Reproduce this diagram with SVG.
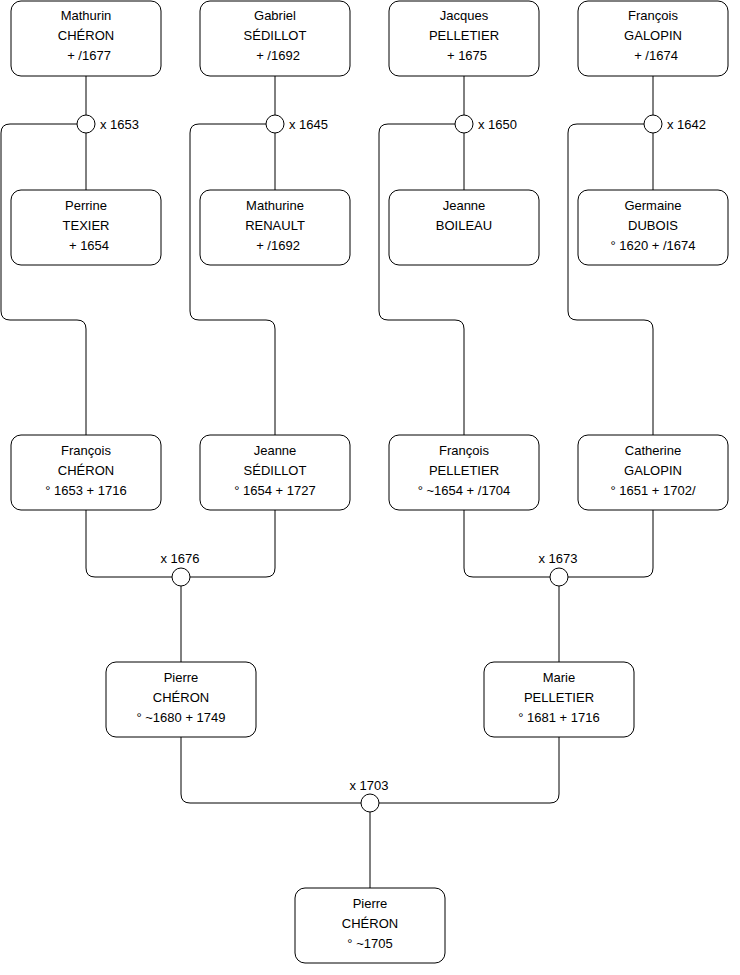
<svg xmlns="http://www.w3.org/2000/svg" width="740" height="975" viewBox="0 0 740 975">
<style>
.box{fill:#fff;stroke:#000;stroke-width:1}
.t{font-family:"Liberation Sans",Arial,Helvetica,sans-serif;font-size:13px;fill:#000;text-anchor:middle}
.l{font-family:"Liberation Sans",Arial,Helvetica,sans-serif;font-size:13px;fill:#000}
.c{fill:none;stroke:#000;stroke-width:1}
.m{fill:#fff;stroke:#000;stroke-width:1}
</style>
<rect width="740" height="975" fill="#fff"/>
<g id="connectors">
<path class="c" d="M86,76V115M86,133V190M77,124H10Q1,124 1,133V311Q1,320 10,320H77Q86,320 86,329V435"/>
<path class="c" d="M275,76V115M275,133V190M266,124H199Q190,124 190,133V311Q190,320 199,320H266Q275,320 275,329V435"/>
<path class="c" d="M464,76V115M464,133V190M455,124H388Q379,124 379,133V311Q379,320 388,320H455Q464,320 464,329V435"/>
<path class="c" d="M653,76V115M653,133V190M644,124H577Q568,124 568,133V311Q568,320 577,320H644Q653,320 653,329V435"/>
<path class="c" d="M86,510V568Q86,577 95,577H172M275,510V568Q275,577 266,577H190M181,586V662"/>
<path class="c" d="M464,510V568Q464,577 473,577H550M653,510V568Q653,577 644,577H568M559,586V662"/>
<path class="c" d="M181,737V794Q181,803 190,803H361M559,737V794Q559,803 550,803H379M370,812V888"/>
</g>
<g id="m1653"><circle class="m" cx="86" cy="124" r="9"/><text class="l" x="100" y="129">x 1653</text></g>
<g id="m1645"><circle class="m" cx="275" cy="124" r="9"/><text class="l" x="289" y="129">x 1645</text></g>
<g id="m1650"><circle class="m" cx="464" cy="124" r="9"/><text class="l" x="478" y="129">x 1650</text></g>
<g id="m1642"><circle class="m" cx="653" cy="124" r="9"/><text class="l" x="667" y="129">x 1642</text></g>
<g id="m1676"><circle class="m" cx="181" cy="577" r="9"/><text class="t" x="180" y="563">x 1676</text></g>
<g id="m1673"><circle class="m" cx="559" cy="577" r="9"/><text class="t" x="558" y="563">x 1673</text></g>
<g id="m1703"><circle class="m" cx="370" cy="803" r="9"/><text class="t" x="369" y="790">x 1703</text></g>

<g id="mathurin_cheron"><rect class="box" x="11" y="1" width="150" height="75" rx="10"/>
<text class="t" x="86" y="20">Mathurin</text><text class="t" x="86" y="40">CHÉRON</text><text class="t" x="89" y="60">+ /1677</text></g>
<g id="gabriel_sedillot"><rect class="box" x="200" y="1" width="150" height="75" rx="10"/>
<text class="t" x="275" y="20">Gabriel</text><text class="t" x="275" y="40">SÉDILLOT</text><text class="t" x="278" y="60">+ /1692</text></g>
<g id="jacques_pelletier"><rect class="box" x="389" y="1" width="150" height="75" rx="10"/>
<text class="t" x="464" y="20">Jacques</text><text class="t" x="464" y="40">PELLETIER</text><text class="t" x="467" y="60">+ 1675</text></g>
<g id="francois_galopin"><rect class="box" x="578" y="1" width="150" height="75" rx="10"/>
<text class="t" x="653" y="20">François</text><text class="t" x="653" y="40">GALOPIN</text><text class="t" x="656" y="60">+ /1674</text></g>

<g id="perrine_texier"><rect class="box" x="11" y="190" width="150" height="75" rx="10"/>
<text class="t" x="86" y="210">Perrine</text><text class="t" x="86" y="230">TEXIER</text><text class="t" x="89" y="250">+ 1654</text></g>
<g id="mathurine_renault"><rect class="box" x="200" y="190" width="150" height="75" rx="10"/>
<text class="t" x="275" y="210">Mathurine</text><text class="t" x="275" y="230">RENAULT</text><text class="t" x="278" y="250">+ /1692</text></g>
<g id="jeanne_boileau"><rect class="box" x="389" y="190" width="150" height="75" rx="10"/>
<text class="t" x="464" y="210">Jeanne</text><text class="t" x="464" y="230">BOILEAU</text></g>
<g id="germaine_dubois"><rect class="box" x="578" y="190" width="150" height="75" rx="10"/>
<text class="t" x="653" y="210">Germaine</text><text class="t" x="653" y="230">DUBOIS</text><text class="t" x="653" y="250">° 1620 + /1674</text></g>

<g id="francois_cheron"><rect class="box" x="11" y="435" width="150" height="75" rx="10"/>
<text class="t" x="86" y="455">François</text><text class="t" x="86" y="475">CHÉRON</text><text class="t" x="86" y="495">° 1653 + 1716</text></g>
<g id="jeanne_sedillot"><rect class="box" x="200" y="435" width="150" height="75" rx="10"/>
<text class="t" x="275" y="455">Jeanne</text><text class="t" x="275" y="475">SÉDILLOT</text><text class="t" x="275" y="495">° 1654 + 1727</text></g>
<g id="francois_pelletier"><rect class="box" x="389" y="435" width="150" height="75" rx="10"/>
<text class="t" x="464" y="455">François</text><text class="t" x="464" y="475">PELLETIER</text><text class="t" x="464" y="495">° ~1654 + /1704</text></g>
<g id="catherine_galopin"><rect class="box" x="578" y="435" width="150" height="75" rx="10"/>
<text class="t" x="653" y="455">Catherine</text><text class="t" x="653" y="475">GALOPIN</text><text class="t" x="653" y="495">° 1651 + 1702/</text></g>

<g id="pierre_cheron_1680"><rect class="box" x="106" y="662" width="150" height="75" rx="10"/>
<text class="t" x="181" y="682">Pierre</text><text class="t" x="181" y="702">CHÉRON</text><text class="t" x="181" y="722">° ~1680 + 1749</text></g>
<g id="marie_pelletier"><rect class="box" x="484" y="662" width="150" height="75" rx="10"/>
<text class="t" x="559" y="682">Marie</text><text class="t" x="559" y="702">PELLETIER</text><text class="t" x="559" y="722">° 1681 + 1716</text></g>
<g id="pierre_cheron_1705"><rect class="box" x="295" y="888" width="150" height="75" rx="10"/>
<text class="t" x="370" y="908">Pierre</text><text class="t" x="370" y="928">CHÉRON</text><text class="t" x="370" y="948">° ~1705</text></g>
</svg>
